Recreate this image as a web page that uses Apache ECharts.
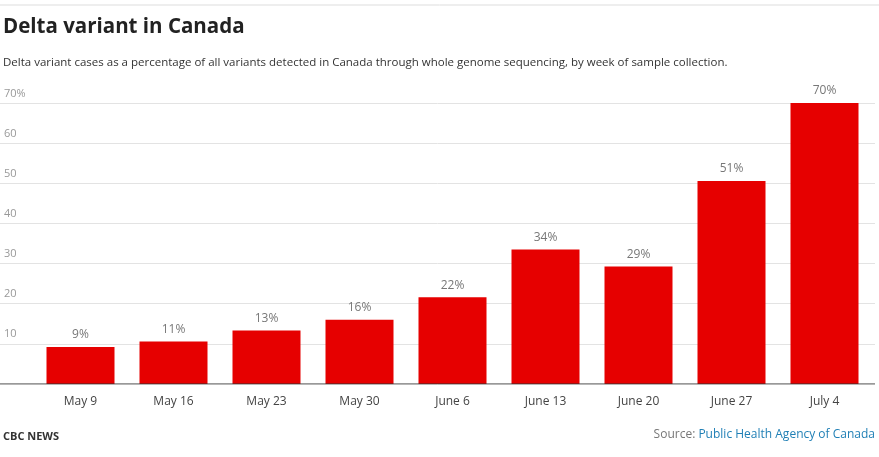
<!DOCTYPE html>
<html><head><meta charset="utf-8">
<script src="https://cdn.jsdelivr.net/npm/echarts@6/dist/echarts.min.js"></script>
<style>html,body{margin:0;padding:0;background:#fff}#c{width:879px;height:457px}</style>
</head><body><div id="c"></div>
<script>
const categories = ['May 9','May 16','May 23','May 30','June 6','June 13','June 20','June 27','July 4'];
const values = [9.2, 10.6, 13.3, 16.0, 21.6, 33.5, 29.3, 50.6, 70.1];
const yTicks = [0, 10, 20, 30, 40, 50, 60, 70];

const font = '"Open Sans", sans-serif';
const chart = echarts.init(document.getElementById('c'));
chart.setOption({
  animation: false,
  textStyle: {fontFamily: font},
  title: [
    {text: 'Delta variant in Canada', left: 3, top: 17, padding: 0, textStyle: {fontSize: 20.5, fontWeight: 'bold', color: '#222', fontFamily: font}},
    {text: 'Delta variant cases as a percentage of all variants detected in Canada through whole genome sequencing, by week of sample collection.',
     left: 3, top: 57, padding: 0, textStyle: {fontSize: 11.5, fontWeight: 'normal', color: '#333', fontFamily: font}},
    {text: 'CBC NEWS', left: 3, top: 431, padding: 0, textStyle: {fontSize: 11, fontWeight: 'bold', color: '#333', fontFamily: font}},
    {text: '{a|Source: }{b|Public Health Agency of Canada}', right: 4, top: 429, padding: 0,
     textStyle: {fontWeight: 'normal', rich: {a: {fontSize: 12, fontWeight: 'normal', color: '#777', fontFamily: font}, b: {fontSize: 12, fontWeight: 'normal', color: '#1f7fb5', fontFamily: font}}}}
  ],
  graphic: [{type: 'line', shape: {x1: 0, y1: 5, x2: 879, y2: 5}, style: {stroke: '#ddd', lineWidth: 1}}],
  grid: [
    {left: 0, right: 4, top: 103, bottom: 73},
    {left: 34, right: 8, top: 103, bottom: 73}
  ],
  xAxis: [
    {gridIndex: 0, type: 'value', show: false, min: 0, max: 1},
    {gridIndex: 1, type: 'category', data: categories,
     axisLine: {show: false}, axisTick: {show: false},
     axisLabel: {color: '#444', fontSize: 12, margin: 12}}
  ],
  yAxis: [
    {gridIndex: 0, type: 'value', min: 0, max: 70, interval: 10,
     axisLine: {show: false}, axisTick: {show: false},
     splitLine: {lineStyle: {color: '#e3e3e3'}},
     axisLabel: {inside: true, verticalAlign: 'bottom', margin: 4, padding: [0, 0, 4, 0], color: '#999', fontSize: 11,
       formatter: v => v === 0 ? '' : (v === yTicks[yTicks.length - 1] ? v + '%' : String(v))}},
    {gridIndex: 1, type: 'value', min: 0, max: 70, show: false}
  ],
  series: [
    {type: 'line', xAxisIndex: 0, yAxisIndex: 0, data: [[0, 0], [1, 0]], symbol: 'none',
     lineStyle: {color: '#333', width: 1}, silent: true, z: 5},
    {type: 'bar', xAxisIndex: 1, yAxisIndex: 1, data: values, barWidth: 68,
     itemStyle: {color: '#e60000'},
     label: {show: true, position: 'top', distance: 6, color: '#777', fontSize: 12,
       formatter: p => Math.round(p.value) + '%'}}
  ]
});
</script></body></html>
